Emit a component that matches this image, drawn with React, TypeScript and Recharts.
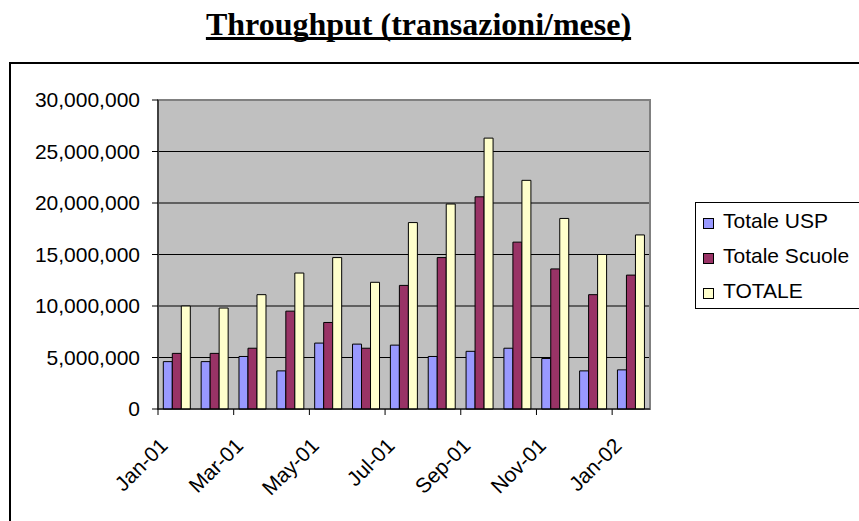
import React from "react";
import {
  BarChart,
  Bar,
  XAxis,
  YAxis,
  CartesianGrid,
  ReferenceArea,
} from "recharts";

const months = [
  "Jan-01", "Feb-01", "Mar-01", "Apr-01", "May-01", "Jun-01", "Jul-01",
  "Aug-01", "Sep-01", "Oct-01", "Nov-01", "Dec-01", "Jan-02",
];
const totaleUsp = [
  4600000, 4600000, 5100000, 3700000, 6400000, 6300000, 6200000,
  5100000, 5600000, 5900000, 4900000, 3700000, 3800000,
];
const totaleScuole = [
  5400000, 5400000, 5900000, 9500000, 8400000, 5900000, 12000000,
  14700000, 20600000, 16200000, 13600000, 11100000, 13000000,
];
const totale = [
  10000000, 9800000, 11100000, 13200000, 14700000, 12300000, 18100000,
  19900000, 26300000, 22200000, 18500000, 15000000, 16900000,
];
const yTicks = [0, 5000000, 10000000, 15000000, 20000000, 25000000, 30000000];

const series = [
  { key: "usp", name: "Totale USP", color: "#9999FF" },
  { key: "scuole", name: "Totale Scuole", color: "#993366" },
  { key: "totale", name: "TOTALE", color: "#FFFFCC" },
];

const data = months.map((m, i) => ({
  month: m,
  usp: totaleUsp[i],
  scuole: totaleScuole[i],
  totale: totale[i],
}));

const W = 859;
const H = 521;
const PLOT_LEFT = 158;
const PLOT_RIGHT = 650;
const PLOT_TOP = 100;
const PLOT_BOTTOM = 409;
const BAND = (PLOT_RIGHT - PLOT_LEFT) / months.length;
const FONT = "Arial, 'Liberation Sans', sans-serif";

const MonthTick = (props: any) => {
  const { x, y, payload } = props;
  return (
    <g transform={`translate(${x},${y})`}>
      <line x1={-BAND / 2} y1={0} x2={-BAND / 2} y2={6} stroke="#000" />
      <text
        x={0}
        y={0}
        transform="translate(-8,38) rotate(-45)"
        textAnchor="end"
        fontSize={21}
        fontFamily={FONT}
        fill="#000"
      >
        {payload.value}
      </text>
    </g>
  );
};

export default function App() {
  return (
    <div style={{ position: "absolute", left: 0, top: 0, width: W, height: H, overflow: "hidden", background: "#fff" }}>
      <div
        style={{
          position: "absolute",
          left: 0,
          top: 8,
          width: 837,
          textAlign: "center",
          fontFamily: "'Times New Roman', 'Liberation Serif', serif",
          fontWeight: "bold",
          fontSize: 32,
          lineHeight: "32px",
          textDecoration: "underline",
          textDecorationSkipInk: "none",
        }}
      >
        Throughput (transazioni/mese)
      </div>
      <div
        style={{
          position: "absolute",
          left: 9,
          top: 62,
          width: 900,
          height: 500,
          border: "2px solid #000",
          boxSizing: "border-box",
        }}
      />
      <div style={{ position: "absolute", left: 0, top: 0 }}>
        <BarChart
          width={W}
          height={H}
          data={data}
          margin={{ top: PLOT_TOP, right: W - PLOT_RIGHT, bottom: 0, left: 0 }}
          barCategoryGap="14%"
          barGap={0}
        >
          <CartesianGrid vertical={false} stroke="#000" fill="#C0C0C0" fillOpacity={1} />
          <ReferenceArea y1={0} y2={30000000} fill="none" stroke="#808080" strokeWidth={2} />
          <XAxis
            dataKey="month"
            height={H - PLOT_BOTTOM}
            interval={1}
            tickLine={false}
            tickSize={0}
            tickMargin={0}
            axisLine={{ stroke: "#000" }}
            tick={<MonthTick />}
          />
          <YAxis
            width={PLOT_LEFT}
            domain={[0, 30000000]}
            ticks={yTicks}
            tickFormatter={(v: number) => v.toLocaleString("en-US")}
            axisLine={{ stroke: "#000" }}
            tickLine={{ stroke: "#000" }}
            tickSize={6}
            tickMargin={12}
            tick={{ fill: "#000", fontSize: 21, fontFamily: FONT }}
          />
          {series.map((s) => (
            <Bar
              key={s.key}
              dataKey={s.key}
              name={s.name}
              fill={s.color}
              stroke="#000"
              strokeWidth={1}
              isAnimationActive={false}
            />
          ))}
        </BarChart>
      </div>
      <div
        style={{
          position: "absolute",
          left: 695,
          top: 202,
          width: 180,
          height: 107,
          border: "1.5px solid #000",
          boxSizing: "border-box",
          background: "#fff",
        }}
      >
        {series.map((s, i) => (
          <div
            key={s.key}
            style={{
              position: "absolute",
              left: 7,
              top: 3 + i * 35,
              height: 30,
              display: "flex",
              alignItems: "center",
              fontFamily: FONT,
              fontSize: 21,
              whiteSpace: "nowrap",
            }}
          >
            <span
              style={{
                display: "inline-block",
                width: 9,
                height: 9,
                background: s.color,
                border: "1px solid #000",
                marginRight: 9,
                marginTop: 5,
              }}
            />
            {s.name}
          </div>
        ))}
      </div>
    </div>
  );
}
